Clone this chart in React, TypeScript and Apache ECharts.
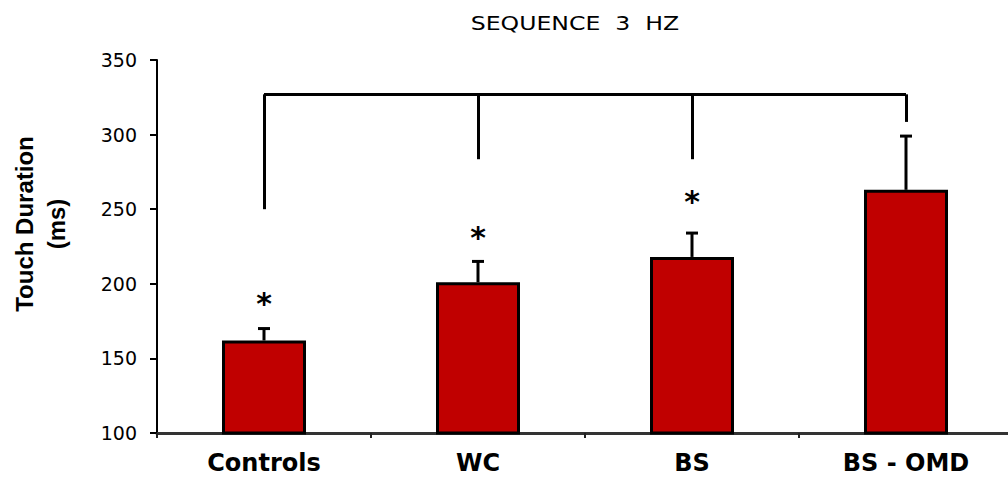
import React, { useEffect, useRef } from "react";
import * as echarts from "echarts";

const categories = ["Controls", "WC", "BS", "BS - OMD"];
const means = [162, 201, 218, 263];
const upperErrors = [170, 215, 234, 299];
const starLevels = [189, 233, 257.5, null];
const bracketTop = 327;
const bracketBottoms = [250, 283.5, 283.5, 308.5];
const yTicks = { min: 100, max: 350, interval: 50 };

export default function App() {
  const ref = useRef<HTMLDivElement>(null);

  useEffect(() => {
    if (!ref.current) return;
    const chart = echarts.init(ref.current, null, { renderer: "svg" });

    const barData = means.map((v) => v);
    const errData = means.map((v, i) => [i, v, upperErrors[i]]);
    const starData = starLevels
      .map((v, i) => (v == null ? null : [i, v]))
      .filter((d) => d !== null);

    const markLines: any[] = [
      [
        { coord: [categories[0], bracketTop] },
        { coord: [categories[categories.length - 1], bracketTop] },
      ],
    ];
    bracketBottoms.forEach((b, i) => {
      markLines.push([
        { coord: [categories[i], bracketTop] },
        { coord: [categories[i], b] },
      ]);
    });

    chart.setOption({
      animation: false,
      backgroundColor: "#ffffff",
      grid: {
        left: 157,
        top: 60,
        width: 856,
        height: 373,
        containLabel: false,
        outerBoundsMode: "none",
      },
      graphic: [
        {
          type: "text",
          x: 575,
          y: 23,
          scaleX: 1.18,
          style: {
            text: "SEQUENCE  3  HZ",
            fontSize: 20,
            fontFamily: "DejaVu Sans",
            fill: "#000",
            align: "center",
            verticalAlign: "middle",
          },
        },
        {
          type: "text",
          x: 40,
          y: 224,
          rotation: Math.PI / 2,
          style: {
            text: "Touch Duration\n(ms)",
            fontSize: 24,
            fontWeight: "bold",
            fontFamily: "Liberation Sans",
            fill: "#000",
            align: "center",
            verticalAlign: "middle",
            lineHeight: 32,
          },
        },
      ],
      xAxis: {
        type: "category",
        data: categories,
        boundaryGap: true,
        axisLine: { show: true, lineStyle: { color: "#333", width: 3 } },
        axisTick: { show: true, length: 5, lineStyle: { color: "#222", width: 2 } },
        axisLabel: {
          fontFamily: "DejaVu Sans",
          fontWeight: "bold",
          fontSize: 24,
          color: "#000",
          margin: 18,
        },
        splitLine: { show: false },
      },
      yAxis: {
        type: "value",
        min: yTicks.min,
        max: yTicks.max,
        interval: yTicks.interval,
        axisLine: { show: true, lineStyle: { color: "#000", width: 2 } },
        axisTick: { show: true, length: 7, lineStyle: { color: "#000", width: 2 } },
        axisLabel: {
          fontFamily: "DejaVu Sans",
          fontSize: 19,
          color: "#000",
          margin: 20,
        },
        splitLine: { show: false },
      },
      series: [
        {
          type: "bar",
          data: barData,
          barWidth: 84,
          itemStyle: { color: "#C00000", borderColor: "#000", borderWidth: 3 },
          z: 2,
          markLine: {
            silent: true,
            symbol: "none",
            label: { show: false },
            lineStyle: { color: "#000", width: 3, type: "solid" },
            emphasis: { disabled: true },
            data: markLines,
          },
        },
        {
          type: "custom",
          data: errData,
          z: 1,
          silent: true,
          renderItem: (params: any, api: any) => {
            const idx = api.value(0);
            const low = api.coord([idx, api.value(1)]);
            const high = api.coord([idx, api.value(2)]);
            const half = 6;
            return {
              type: "group",
              children: [
                {
                  type: "line",
                  shape: { x1: low[0], y1: low[1], x2: high[0], y2: high[1] },
                  style: { stroke: "#000", lineWidth: 3 },
                },
                {
                  type: "line",
                  shape: { x1: high[0] - half, y1: high[1], x2: high[0] + half, y2: high[1] },
                  style: { stroke: "#000", lineWidth: 3 },
                },
              ],
            };
          },
        },
        {
          type: "custom",
          data: starData,
          z: 3,
          silent: true,
          renderItem: (params: any, api: any) => {
            const pt = api.coord([api.value(0), api.value(1)]);
            return {
              type: "text",
              x: pt[0],
              y: pt[1] + 3,
              style: {
                text: "*",
                fontFamily: "DejaVu Sans",
                fontWeight: "bold",
                fontSize: 30,
                fill: "#000",
                align: "center",
                verticalAlign: "middle",
              },
            };
          },
        },
      ],
    });

    return () => chart.dispose();
  }, []);

  return (
    <div
      ref={ref}
      style={{ position: "absolute", left: 0, top: 0, width: 1008, height: 478 }}
    />
  );
}
